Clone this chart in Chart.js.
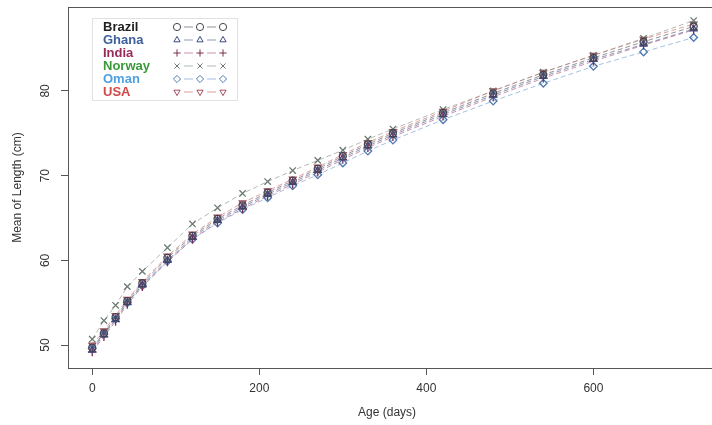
<!DOCTYPE html>
<html>
<head>
<meta charset="utf-8">
<script src="https://cdn.jsdelivr.net/npm/chart.js"></script>
<style>
  body { margin: 0; background: #fff; }
  #wrap { position: relative; width: 712px; height: 425px; }
</style>
</head>
<body>
<div id="wrap"><canvas id="myChart" width="712" height="425"></canvas></div>
<script>
// ages in days
var ages = [0, 14, 28, 42, 60, 90, 120, 150, 180, 210, 240, 270, 300, 330, 360, 420, 480, 540, 600, 660, 720];

// mean length (cm) per site
var brazil = [49.7, 51.4, 53.3, 55.2, 57.3, 60.3, 62.9, 64.9, 66.5, 68.0, 69.4, 70.8, 72.3, 73.7, 75.0, 77.4, 79.7, 81.9, 83.9, 85.8, 87.6];
var ghana  = [49.4, 51.2, 53.0, 55.0, 57.1, 60.0, 62.7, 64.7, 66.3, 67.8, 69.2, 70.6, 72.1, 73.5, 74.8, 77.2, 79.5, 81.7, 83.7, 85.5, 87.3];
var india  = [49.2, 51.0, 52.8, 54.8, 56.9, 59.8, 62.5, 64.5, 66.1, 67.6, 69.0, 70.4, 71.9, 73.3, 74.6, 77.0, 79.3, 81.5, 83.5, 85.4, 87.2];
var norway = [50.7, 52.9, 54.7, 56.9, 58.7, 61.5, 64.3, 66.2, 67.9, 69.3, 70.6, 71.8, 73.0, 74.3, 75.5, 77.8, 80.0, 82.2, 84.2, 86.2, 88.3];
var oman   = [49.6, 51.3, 53.1, 55.0, 57.0, 59.9, 62.5, 64.4, 66.0, 67.4, 68.8, 70.1, 71.5, 72.9, 74.2, 76.6, 78.8, 80.9, 82.9, 84.6, 86.3];
var usa    = [50.0, 51.7, 53.5, 55.4, 57.5, 60.5, 63.1, 65.1, 66.8, 68.2, 69.6, 71.0, 72.5, 73.9, 75.2, 77.6, 80.0, 82.2, 84.2, 86.1, 87.9];

var sites = ['Brazil', 'Ghana', 'India', 'Norway', 'Oman', 'USA'];
var xTicks = [0, 200, 400, 600];
var yTicks = [50, 60, 70, 80];

var series = [brazil, ghana, india, norway, oman, usa];
var textColors = ['#222222', '#3d5f9e', '#9a2a5a', '#3a9a3a', '#4fa0e0', '#d04848'];
var markColors = ['#44444f', '#3a4a80', '#7a2c50', '#6a7a70', '#5078b0', '#a04a58'];
var lineColors = ['rgba(90,90,100,0.65)', 'rgba(70,86,138,0.6)', 'rgba(160,60,100,0.55)', 'rgba(120,130,120,0.55)', 'rgba(90,140,200,0.55)', 'rgba(200,80,80,0.55)'];
var styles = ['circle', 'triangle', 'cross', 'crossRot', 'rectRot', 'triangle'];
var rotations = [0, 0, 0, 0, 0, 180];
var radii = [3.5, 3.8, 4.3, 4.5, 3.8, 3.8];

var datasets = sites.map(function (name, i) {
    return {
        label: name,
        data: ages.map(function (a, j) { return { x: a, y: series[i][j] }; }),
        borderColor: lineColors[i],
        borderWidth: 1,
        borderDash: [5, 3],
        pointStyle: styles[i],
        pointRotation: rotations[i],
        pointRadius: radii[i],
        pointBorderWidth: 1.3,
        pointBorderColor: markColors[i],
        pointBackgroundColor: 'rgba(0,0,0,0)',
        tension: 0,
        fill: false
    };
});

function drawMark(ctx, style, rot, x, y, r) {
    if (Chart.helpers && Chart.helpers.drawPoint) {
        Chart.helpers.drawPoint(ctx, { pointStyle: style, rotation: rot, radius: r, borderWidth: 1.2 }, x, y);
    }
}

var boxAndLegend = {
    id: 'boxAndLegend',
    afterDraw: function (chart) {
        var ctx = chart.ctx;
        var a = chart.chartArea;
        ctx.save();
        // plot frame (right side falls off the picture)
        ctx.strokeStyle = '#555';
        ctx.lineWidth = 1;
        ctx.strokeRect(a.left + 0.5, a.top + 0.5, a.right - a.left + 10, a.bottom - a.top);

        // legend
        ctx.strokeStyle = '#e2e2e2';
        ctx.strokeRect(92.5, 18.5, 145, 82);
        ctx.font = 'bold 13px "Liberation Sans", Arial, sans-serif';
        ctx.textBaseline = 'middle';
        sites.forEach(function (name, i) {
            var y = 27 + i * 13;
            ctx.fillStyle = textColors[i];
            ctx.fillText(name, 103, y);
            ctx.strokeStyle = lineColors[i];
            ctx.beginPath();
            ctx.moveTo(184, y); ctx.lineTo(193, y);
            ctx.moveTo(207, y); ctx.lineTo(216, y);
            ctx.stroke();
            ctx.strokeStyle = markColors[i];
            ctx.fillStyle = 'rgba(0,0,0,0)';
            [177, 200, 223].forEach(function (x) {
                drawMark(ctx, styles[i], rotations[i], x, y, 3.6);
            });
        });
        ctx.restore();
    }
};

var tickFont = { family: '"Liberation Sans", Arial, sans-serif', size: 12 };

var ctx = document.getElementById('myChart').getContext('2d');
var myChart = new Chart(ctx, {
    type: 'line',
    data: { datasets: datasets },
    plugins: [boxAndLegend],
    options: {
        responsive: false,
        animation: false,
        devicePixelRatio: 1,
        layout: { padding: { left: 0, right: 0, top: 7, bottom: 0 } },
        plugins: {
            legend: { display: false },
            tooltip: { enabled: false }
        },
        scales: {
            x: {
                type: 'linear',
                min: -29,
                max: 735,
                afterBuildTicks: function (scale) {
                    scale.ticks = xTicks.map(function (v) { return { value: v }; });
                },
                afterFit: function (scale) {
                    scale.height = 57;
                    scale.paddingLeft = 0;
                    scale.paddingRight = 0;
                },
                grid: { display: true, drawOnChartArea: false, drawTicks: true, tickLength: 7, color: '#555' },
                border: { display: true, color: '#555' },
                ticks: { padding: 6, color: '#333', font: tickFont, maxRotation: 0 },
                title: {
                    display: true,
                    text: 'Age (days)',
                    color: '#333',
                    font: tickFont,
                    padding: { top: 0, bottom: 5 }
                }
            },
            y: {
                type: 'linear',
                min: 47.3,
                max: 89.9,
                afterBuildTicks: function (scale) {
                    scale.ticks = yTicks.map(function (v) { return { value: v }; });
                },
                afterFit: function (scale) {
                    scale.width = 68;
                    scale.paddingTop = 0;
                    scale.paddingBottom = 0;
                },
                grid: { display: true, drawOnChartArea: false, drawTicks: true, tickLength: 7, color: '#555' },
                border: { display: true, color: '#555' },
                ticks: {
                    padding: 9,
                    color: '#333',
                    crossAlign: 'center',
                    minRotation: 90,
                    maxRotation: 90,
                    font: tickFont
                },
                title: {
                    display: true,
                    text: 'Mean of Length (cm)',
                    color: '#333',
                    font: tickFont,
                    padding: { top: 10, bottom: 0 }
                }
            }
        }
    }
});
</script>
</body>
</html>
